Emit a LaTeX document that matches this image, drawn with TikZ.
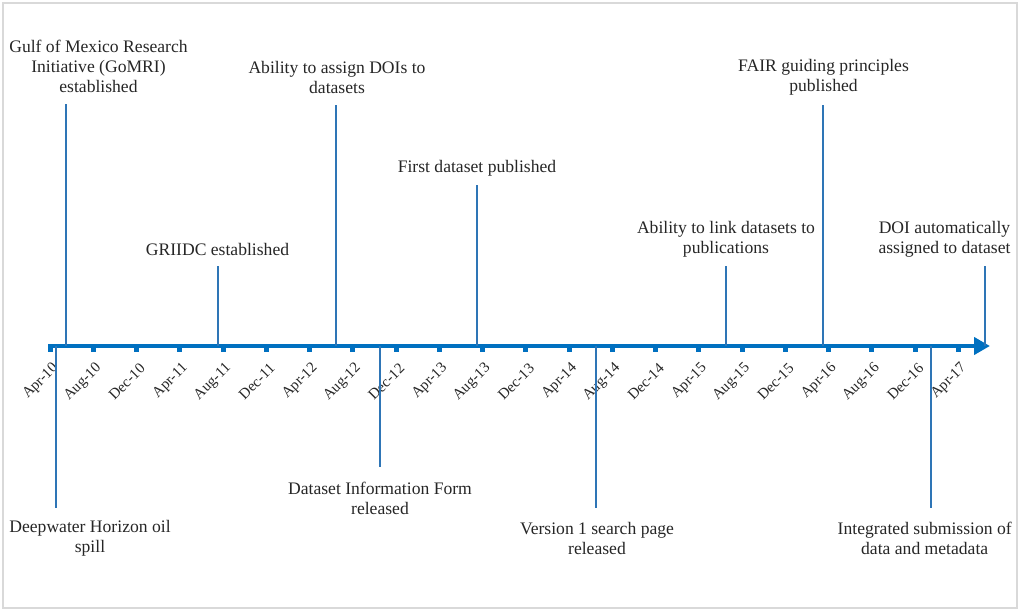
\documentclass[tikz,border=0pt]{standalone}
\usepackage{fontspec}
\setmainfont{Liberation Serif}
\usetikzlibrary{arrows.meta}
\definecolor{axisblue}{RGB}{0,112,192}
\definecolor{lineblue}{RGB}{46,117,182}
\definecolor{framegray}{RGB}{217,217,217}
\definecolor{txtgray}{RGB}{38,38,38}
\begin{document}
\begin{tikzpicture}[x=1pt,y=-1pt,
  evtext/.style={align=center, font=\fontsize{17.6}{20}\selectfont, inner sep=0pt, text=txtgray},
  ticklabel/.style={font=\fontsize{15}{17}\selectfont, rotate=45, anchor=east, inner sep=0pt, text=txtgray},
  evline/.style={draw=lineblue, line width=1.5pt},
  tickmark/.style={fill=axisblue, draw=none, minimum width=5pt, minimum height=4pt, inner sep=0pt},
  timeaxis/.style={draw=axisblue, line width=4.5pt, -{Triangle[length=16pt,width=17pt]}}
]
\useasboundingbox (0,0) rectangle (1021,613);
\draw[framegray, line width=1.2pt] (3,3) rectangle (1017,608);

% axis
\coordinate (axstart) at (48,346);
\coordinate (axend) at (990,346);
\draw[timeaxis] (axstart) -- (axend);

% ticks and labels
\foreach \m [count=\i from 0] in {Apr-10,Aug-10,Dec-10,Apr-11,Aug-11,Dec-11,Apr-12,Aug-12,Dec-12,Apr-13,Aug-13,Dec-13,Apr-14,Aug-14,Dec-14,Apr-15,Aug-15,Dec-15,Apr-16,Aug-16,Dec-16,Apr-17}{
  \pgfmathsetmacro{\tx}{50+43.25*\i}
  \node[tickmark] (tick\i) at (\tx,350) {};
  \node[ticklabel] (tlab\i) at (\tx+6,366) {\m};
}

% events above
\node[evtext] (gomri) at (98.5,66.5) {Gulf of Mexico Research\\Initiative (GoMRI)\\established};
\coordinate (gomri-a) at (66,346); \coordinate (gomri-b) at (66,104);
\draw[evline] (gomri-a) -- (gomri-b);

\node[evtext] (griidc) at (217.5,249) {GRIIDC established};
\coordinate (griidc-a) at (218,346); \coordinate (griidc-b) at (218,266);
\draw[evline] (griidc-a) -- (griidc-b);

\node[evtext] (doi) at (337,77) {Ability to assign DOIs to\\datasets};
\coordinate (doi-a) at (336,346); \coordinate (doi-b) at (336,105);
\draw[evline] (doi-a) -- (doi-b);

\node[evtext] (first) at (477,168) {First dataset published};
\coordinate (first-a) at (477,346); \coordinate (first-b) at (477,185);
\draw[evline] (first-a) -- (first-b);

\node[evtext] (link) at (726,239) {Ability to link datasets to\\publications};
\coordinate (link-a) at (726,346); \coordinate (link-b) at (726,266);
\draw[evline] (link-a) -- (link-b);

\node[evtext] (fair) at (823.5,77) {FAIR guiding principles\\published};
\coordinate (fair-a) at (823,346); \coordinate (fair-b) at (823,105);
\draw[evline] (fair-a) -- (fair-b);

\node[evtext] (doiauto) at (944.5,239) {DOI automatically\\assigned to dataset};
\coordinate (doiauto-a) at (985,346); \coordinate (doiauto-b) at (985,266);
\draw[evline] (doiauto-a) -- (doiauto-b);

% events below
\node[evtext] (dwh) at (90,538) {Deepwater Horizon oil\\spill};
\coordinate (dwh-a) at (56,346); \coordinate (dwh-b) at (56,508);
\draw[evline] (dwh-a) -- (dwh-b);

\node[evtext] (dif) at (380,498) {Dataset Information Form\\released};
\coordinate (dif-a) at (380,346); \coordinate (dif-b) at (380,467);
\draw[evline] (dif-a) -- (dif-b);

\node[evtext] (vone) at (597,538) {Version 1 search page\\released};
\coordinate (vone-a) at (596,346); \coordinate (vone-b) at (596,508);
\draw[evline] (vone-a) -- (vone-b);

\node[evtext] (integ) at (924.7,538) {Integrated submission of\\data and metadata};
\coordinate (integ-a) at (931,346); \coordinate (integ-b) at (931,508);
\draw[evline] (integ-a) -- (integ-b);
\end{tikzpicture}
\end{document}
